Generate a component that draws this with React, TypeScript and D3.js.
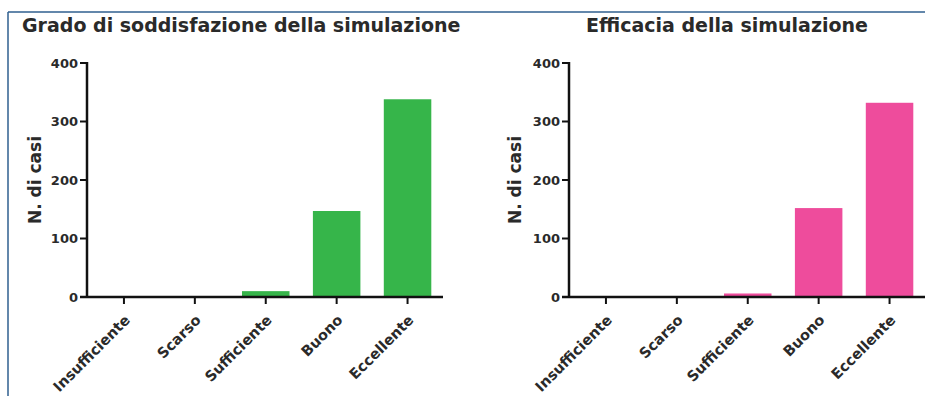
import React from "react";
import * as d3 from "d3";

const categories = ["Insufficiente", "Scarso", "Sufficiente", "Buono", "Eccellente"];
const soddisfazioneValues = [0, 0, 10, 147, 338];
const efficaciaValues = [0, 0, 6, 152, 332];
const yTicks = [0, 100, 200, 300, 400];
const titles = ["Grado di soddisfazione della simulazione", "Efficacia della simulazione"];
const yLabel = "N. di casi";

const FONT = "'DejaVu Sans', 'Liberation Sans', Arial, sans-serif";
const TEXT = "#2a2a2a";

const y = d3.scaleLinear().domain([0, 400]).range([297, 63]);

type Panel = {
  title: string;
  values: number[];
  color: string;
  axisX: number;
  rangeEnd: number;
  titleX: number;
  titleAnchor: "start" | "middle";
  labelX: number;
};

const panels: Panel[] = [
  { title: titles[0], values: soddisfazioneValues, color: "#36b54a", axisX: 87, rangeEnd: 443, titleX: 22, titleAnchor: "start", labelX: 35 },
  { title: titles[1], values: efficaciaValues, color: "#ee4c9c", axisX: 569, rangeEnd: 925, titleX: 727, titleAnchor: "middle", labelX: 515 },
];

function PanelView({ p }: { p: Panel }) {
  const x = d3
    .scaleBand<string>()
    .domain(categories)
    .range([p.axisX + 1.5, p.rangeEnd])
    .paddingInner(0.33)
    .paddingOuter(0.165);
  const y0 = y(0);
  const tickLen = 7;
  return (
    <g>
      <text x={p.titleX} y={32} fontFamily={FONT} fontWeight="bold" fontSize={19} fill={TEXT} textAnchor={p.titleAnchor}>
        {p.title}
      </text>
      {p.values.map((v, i) => {
        const c = categories[i];
        const top = y(v);
        return v > 0 ? (
          <rect key={c} x={x(c)} y={top} width={x.bandwidth()} height={y0 - top} fill={p.color} />
        ) : null;
      })}
      {/* y axis */}
      <line x1={p.axisX} x2={p.axisX} y1={y(400) - 1} y2={y0} stroke="#111" strokeWidth={2.5} />
      {yTicks.map((t) => (
        <g key={t}>
          <line x1={p.axisX - tickLen} x2={p.axisX} y1={y(t)} y2={y(t)} stroke="#111" strokeWidth={2} />
          <text x={p.axisX - tickLen - 2} y={y(t)} dy="0.36em" fontFamily={FONT} fontWeight="bold" fontSize={13} fill={TEXT} textAnchor="end">
            {t}
          </text>
        </g>
      ))}
      {/* x axis */}
      <line x1={p.axisX - tickLen} x2={p.rangeEnd} y1={y0} y2={y0} stroke="#111" strokeWidth={2.5} />
      {categories.map((c) => {
        const cx = (x(c) as number) + x.bandwidth() / 2;
        return (
          <g key={c}>
            <line x1={cx} x2={cx} y1={y0} y2={y0 + tickLen} stroke="#111" strokeWidth={2} />
            <text
              transform={`translate(${cx + 7},${y0 + 24}) rotate(-45)`}
              fontFamily={FONT}
              fontWeight="bold"
              fontSize={14.5}
              fill={TEXT}
              textAnchor="end"
            >
              {c}
            </text>
          </g>
        );
      })}
      <text
        transform={`translate(${p.labelX},${(y(400) + y0) / 2}) rotate(-90)`}
        fontFamily={FONT}
        fontWeight="bold"
        fontSize={17}
        fill={TEXT}
        textAnchor="middle"
        dy="0.36em"
      >
        {yLabel}
      </text>
    </g>
  );
}

export default function App() {
  return (
    <svg width={925} height={396} style={{ position: "fixed", left: 0, top: 0, background: "#fff" }}>
      <rect x={0} y={0} width={925} height={396} fill="#fff" />
      <line x1={8} x2={925} y1={12} y2={12} stroke="#2f5f8f" strokeWidth={1.5} />
      <line x1={8} x2={8} y1={12} y2={396} stroke="#2f5f8f" strokeWidth={1.5} />
      {panels.map((p) => (
        <PanelView key={p.title} p={p} />
      ))}
    </svg>
  );
}
